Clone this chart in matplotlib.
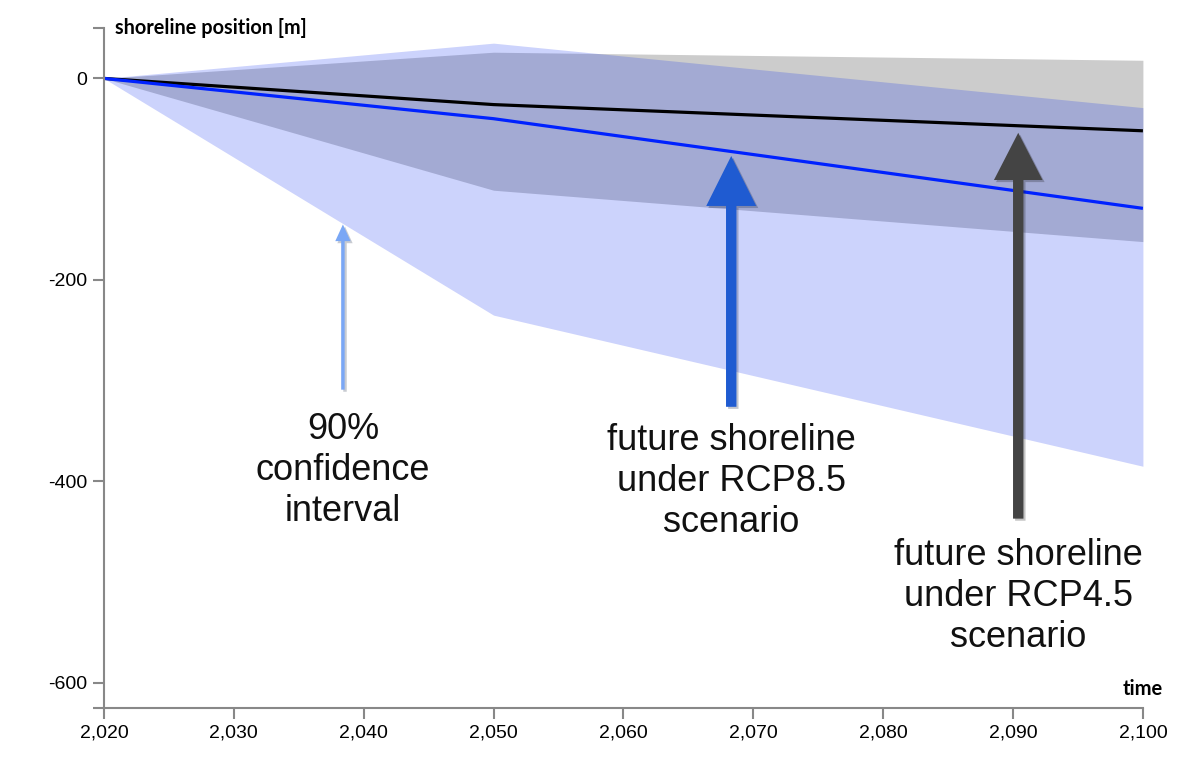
import matplotlib
matplotlib.use("Agg")
import matplotlib.pyplot as plt
import matplotlib.patheffects as pe

# values
years = [2020, 2050, 2100]
rcp45_median = [0, -26, -52]
rcp45_lower = [0, -111, -162]
rcp45_upper = [0, 26, 18]
rcp85_median = [0, -40, -129]
rcp85_lower = [0, -235, -385]
rcp85_upper = [0, 35, -29]

xticks = list(range(2020, 2101, 10))
yticks = [0, -200, -400, -600]

axis_grey = "#888888"

fig = plt.figure(figsize=(11.84, 7.7), dpi=100)
ax = fig.add_axes([0.0878, 0.0805, 0.8775, 0.8831])

ax.fill_between(years, rcp45_lower, rcp45_upper, color="black", alpha=0.2, linewidth=0)
ax.fill_between(years, rcp85_lower, rcp85_upper, color=(0, 35 / 255, 240 / 255), alpha=0.2, linewidth=0)
ax.plot(years, rcp45_median, color="black", lw=2.3, solid_capstyle="butt")
ax.plot(years, rcp85_median, color="#0022ff", lw=2.3, solid_capstyle="butt")

ax.set_xlim(2020, 2100)
ax.set_ylim(-625, 50)

for s in ["top", "right"]:
    ax.spines[s].set_visible(False)
for s in ["left", "bottom"]:
    ax.spines[s].set_color(axis_grey)
    ax.spines[s].set_linewidth(1.5)

ax.set_xticks(xticks)
ax.set_xticklabels([f"{x:,}" for x in xticks])
ax.set_yticks(yticks)
ax.set_yticklabels([str(y) for y in yticks])
ax.set_yticks([50, -625], minor=True)
ax.tick_params(axis="both", which="both", length=8, width=1.5, color=axis_grey,
               labelsize=14, pad=4)
for lab in ax.get_xticklabels() + ax.get_yticklabels():
    lab.set_family("Liberation Sans")

ax.text(0.011, 1.0, "shoreline position [m]", transform=ax.transAxes,
        family="Lato", weight="bold", fontsize=14.3, ha="left", va="center")
ax.text(1.019, 0.028, "time", transform=ax.transAxes,
        family="Lato", weight="bold", fontsize=14.5, ha="right", va="center")

shadow = [pe.withSimplePatchShadow(offset=(1.5, -1.5), alpha=0.25)]

# annotations: (text, text xy, arrow tip, arrow tail, colour, style)
notes = [
    ("90%\nconfidence\ninterval", (2038.4, -389), (2038.4, -145), (2038.4, -309),
     "#7aa7f5", "simple,head_length=12,head_width=11,tail_width=2.5"),
    ("future shoreline\nunder RCP8.5\nscenario", (2068.3, -400), (2068.3, -77), (2068.3, -326),
     "#1f5bd1", "simple,head_length=36,head_width=36,tail_width=7.5"),
    ("future shoreline\nunder RCP4.5\nscenario", (2090.4, -514), (2090.4, -54), (2090.4, -437),
     "#444444", "simple,head_length=34,head_width=35,tail_width=7.5"),
]
for txt, txy, tip, tail, col, style in notes:
    ax.annotate("", xy=tip, xytext=tail,
                arrowprops=dict(arrowstyle=style, color=col, lw=0, mutation_scale=1,
                                shrinkA=0, shrinkB=0, path_effects=shadow))
    ax.text(txy[0], txy[1], txt, family="Liberation Sans", fontsize=26,
            ha="center", va="center", linespacing=1.22, color="#111111")

fig.savefig("out.png", dpi=100)
